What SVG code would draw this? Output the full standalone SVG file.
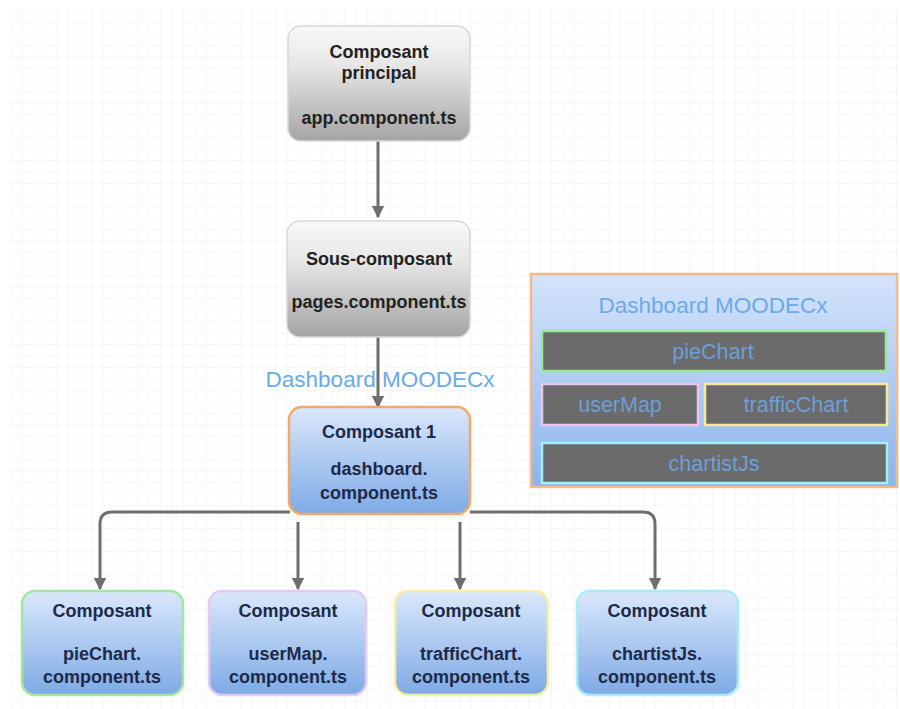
<svg xmlns="http://www.w3.org/2000/svg" width="900" height="709" viewBox="0 0 900 709">
<defs>
<pattern id="grid" width="11.5" height="11.5" patternUnits="userSpaceOnUse">
<path d="M11.5 0 V11.5 M0 11.5 H11.5" fill="none" stroke="#efefef" stroke-width="1"/>
</pattern>
<linearGradient id="gGray" x1="0" y1="0" x2="0" y2="1">
<stop offset="0" stop-color="#f9f9f9"/>
<stop offset="0.35" stop-color="#e6e6e6"/>
<stop offset="1" stop-color="#a4a4a4"/>
</linearGradient>
<linearGradient id="gBlue" x1="0" y1="0" x2="0" y2="1">
<stop offset="0" stop-color="#dbe8fb"/>
<stop offset="1" stop-color="#7eaae6"/>
</linearGradient>
<linearGradient id="gPanel" x1="0" y1="0" x2="0" y2="1">
<stop offset="0" stop-color="#d4e4fa"/>
<stop offset="1" stop-color="#8db4ee"/>
</linearGradient>
<marker id="arr" viewBox="0 0 10 10" refX="9" refY="5" markerWidth="4.2" markerHeight="4.2" orient="auto">
<path d="M0 0 L10 5 L0 10 Z" fill="#6e6e6e"/>
</marker>
</defs>
<style>
.t{font-family:"Liberation Sans",Arial,sans-serif;font-weight:bold;font-size:18px;text-anchor:middle;fill:#222}
.tb{font-family:"Liberation Sans",Arial,sans-serif;font-weight:bold;font-size:18px;text-anchor:middle;fill:#1c2a48}
.lbl{font-family:"Liberation Sans",Arial,sans-serif;font-size:22.5px;text-anchor:middle;fill:#6aaae8}
.bar{font-family:"Liberation Sans",Arial,sans-serif;font-size:21.5px;text-anchor:middle;fill:#6d9fd8}
.gray{fill:url(#gGray);stroke:#d8d8d8;stroke-width:1.5}
.blue{fill:url(#gBlue);stroke-width:2.5}
.bx{fill:#6b6b6b;stroke-width:2.5}
.con{fill:none;stroke:#6e6e6e;stroke-width:3;marker-end:url(#arr)}
</style>
<rect x="0" y="0" width="900" height="709" fill="#ffffff"/>
<rect x="8" y="8" width="892" height="701" fill="url(#grid)"/>

<g id="connectors">
<path class="con" d="M378 141 V217"/>
<path class="con" d="M378 337 V407"/>
<path class="con" d="M290 512 H112 Q100 512 100 524 V589"/>
<path class="con" d="M298 522 V589"/>
<path class="con" d="M460 522 V589"/>
<path class="con" d="M470 512 H643 Q655 512 655 524 V589"/>
</g>

<g id="n-main">
<rect class="gray" x="288" y="26" width="182" height="115" rx="13"/>
<text class="t" x="379" y="58">Composant</text>
<text class="t" x="379" y="79">principal</text>
<text class="t" x="379" y="124">app.component.ts</text>
</g>

<g id="n-pages">
<rect class="gray" x="287" y="221" width="183" height="116" rx="13"/>
<text class="t" x="379" y="265">Sous-composant</text>
<text class="t" x="379" y="308">pages.component.ts</text>
</g>

<g id="label-dash">
<text class="lbl" x="380" y="387">Dashboard MOODECx</text>
</g>

<g id="n-dashboard">
<rect class="blue" x="289" y="407" width="181" height="107" rx="13" stroke="#f2a868"/>
<text class="tb" x="379" y="438">Composant 1</text>
<text class="tb" x="379" y="475">dashboard.</text>
<text class="tb" x="379" y="499">component.ts</text>
</g>

<g id="n-pie">
<rect class="blue" x="22" y="591" width="161" height="104" rx="13" stroke="#9fe8a0"/>
<text class="tb" x="102" y="617">Composant</text>
<text class="tb" x="102" y="660">pieChart.</text>
<text class="tb" x="102" y="683">component.ts</text>
</g>

<g id="n-usermap">
<rect class="blue" x="209" y="591" width="157" height="104" rx="13" stroke="#e6c8f2"/>
<text class="tb" x="288" y="617">Composant</text>
<text class="tb" x="288" y="660">userMap.</text>
<text class="tb" x="288" y="683">component.ts</text>
</g>

<g id="n-traffic">
<rect class="blue" x="395" y="591" width="153" height="104" rx="13" stroke="#f6f0a0"/>
<text class="tb" x="471" y="617">Composant</text>
<text class="tb" x="471" y="660">trafficChart.</text>
<text class="tb" x="471" y="683">component.ts</text>
</g>

<g id="n-chartist">
<rect class="blue" x="577" y="591" width="161" height="104" rx="13" stroke="#a8ecf4"/>
<text class="tb" x="657" y="617">Composant</text>
<text class="tb" x="657" y="660">chartistJs.</text>
<text class="tb" x="657" y="683">component.ts</text>
</g>

<g id="panel">
<rect x="531" y="274" width="366" height="213" fill="url(#gPanel)" stroke="#f5b888" stroke-width="2.5"/>
<text class="lbl" x="713" y="313">Dashboard MOODECx</text>
<rect class="bx" x="542" y="331" width="344" height="40" stroke="#9ae89a"/>
<text class="bar" x="713" y="359">pieChart</text>
<rect class="bx" x="542" y="384" width="156" height="41" stroke="#ecc4f0"/>
<text class="bar" x="620" y="412">userMap</text>
<rect class="bx" x="705" y="384" width="182" height="41" stroke="#f4ea98"/>
<text class="bar" x="796" y="412">trafficChart</text>
<rect class="bx" x="542" y="443" width="345" height="40" stroke="#a4eef6"/>
<text class="bar" x="714" y="471">chartistJs</text>
</g>
</svg>
